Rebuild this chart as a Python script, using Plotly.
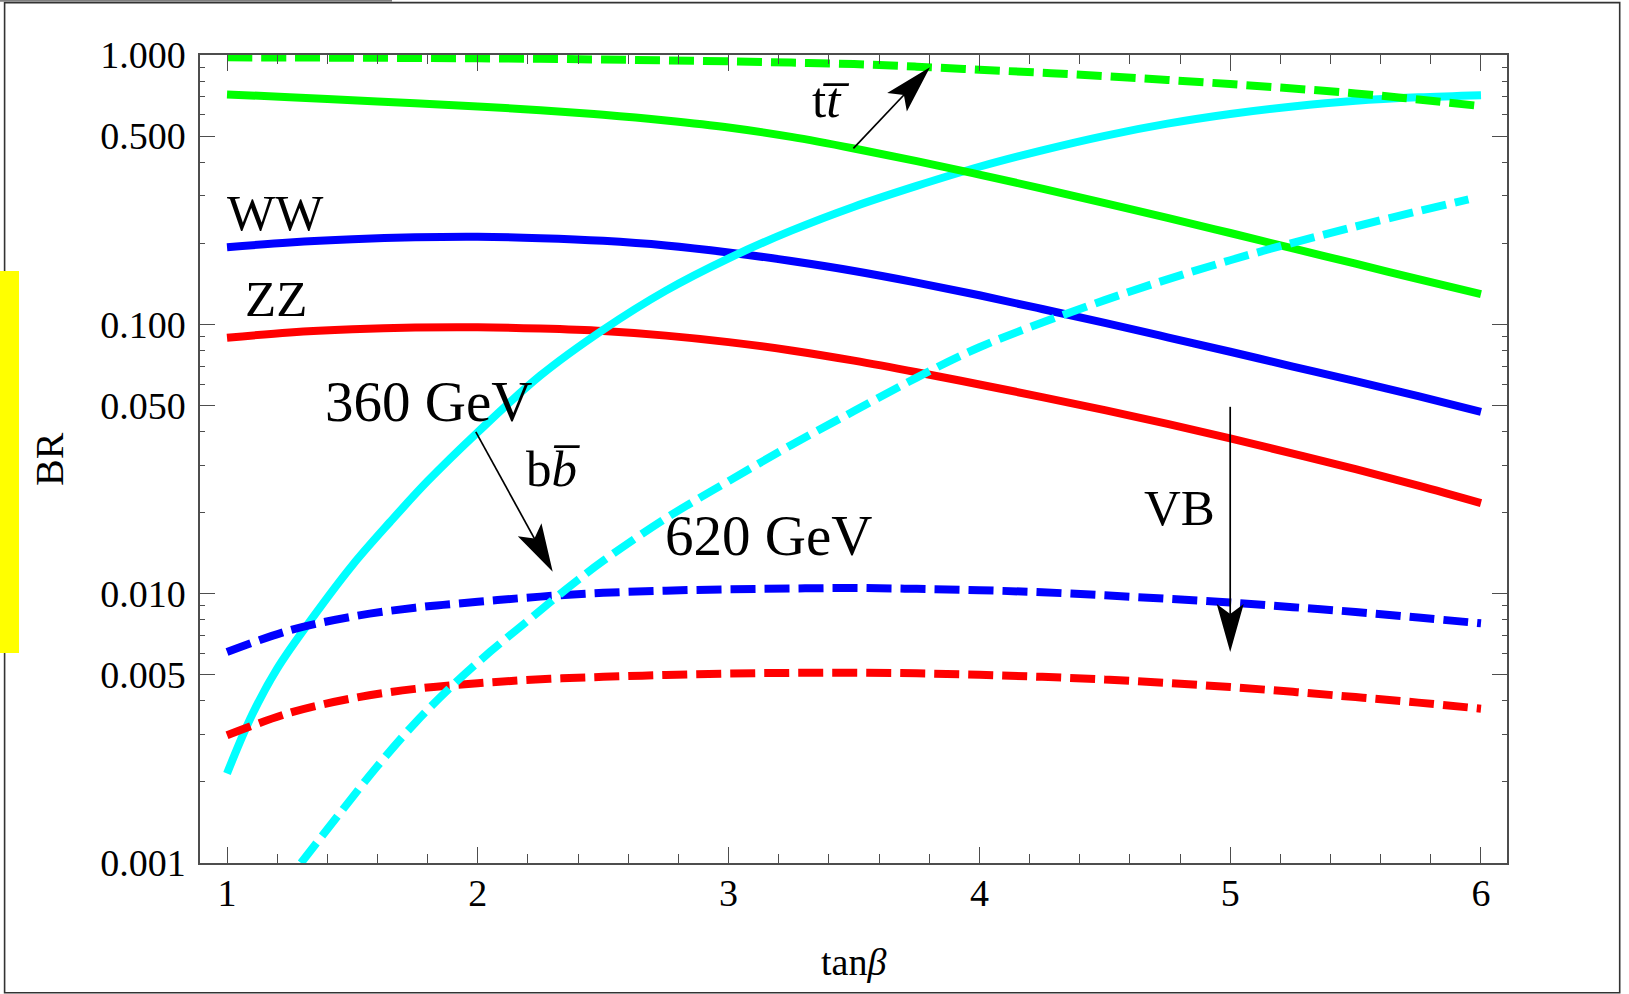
import math
import plotly.graph_objects as go

# ---------------------------------------------------------------------------
# Branching ratios of the heavy Higgs vs tan(beta)
# solid = 360 GeV, dashed = 620 GeV
# ---------------------------------------------------------------------------
tanb = [1, 1.25, 1.5, 1.75, 2, 2.25, 2.5, 2.75, 3, 3.25, 3.5, 3.75,
        4, 4.25, 4.5, 4.75, 5, 5.25, 5.5, 5.75, 6]

# 360 GeV
br_tt_360 = [0.714, 0.697, 0.679, 0.662, 0.644, 0.624, 0.600, 0.5715, 0.5383,
             0.4966, 0.4498, 0.4036, 0.3597, 0.3192, 0.2818, 0.2483, 0.2183,
             0.1914, 0.1679, 0.1472, 0.1294]
br_ww_360 = [0.1932, 0.2014, 0.2070, 0.2104, 0.2113, 0.2089, 0.2042, 0.1963,
             0.1849, 0.1718, 0.1578, 0.1429, 0.1282, 0.1140, 0.1012, 0.0895,
             0.0791, 0.0697, 0.0615, 0.0541, 0.0473]
br_zz_360 = [0.0891, 0.0933, 0.0959, 0.0973, 0.0975, 0.0964, 0.0944, 0.0908,
             0.0859, 0.0800, 0.0733, 0.0664, 0.0598, 0.0537, 0.0480, 0.0427,
             0.0377, 0.0331, 0.0290, 0.0252, 0.0217]
tanb_bb_360 = [1, 1.1, 1.2, 1.35, 1.5, 1.65, 1.8, 2, 2.25, 2.5, 2.75, 3,
               3.25, 3.5, 3.75, 4, 4.25, 4.5, 4.75, 5, 5.25, 5.5, 5.75, 6]
br_bb_360 = [0.00215, 0.00355, 0.00527, 0.00836, 0.01276, 0.01845, 0.02618,
             0.03981, 0.0646, 0.0955, 0.1334, 0.1758, 0.2228, 0.2735, 0.3266,
             0.3846, 0.4426, 0.5012, 0.5559, 0.6039, 0.6442, 0.6761, 0.6966,
             0.7096]

# 620 GeV
br_tt_620 = [0.980, 0.979, 0.977, 0.975, 0.972, 0.968, 0.962, 0.955, 0.947,
             0.937, 0.925, 0.905, 0.882, 0.859, 0.835, 0.808, 0.780, 0.751,
             0.720, 0.684, 0.646]
br_ww_620 = [0.00607, 0.00731, 0.00822, 0.00887, 0.00933, 0.00975, 0.01007,
             0.01026, 0.01038, 0.01045, 0.01050, 0.01042, 0.01030, 0.01012,
             0.00986, 0.00957, 0.00927, 0.00891, 0.00855, 0.00815, 0.00776]
br_zz_620 = [0.00298, 0.00361, 0.00409, 0.00443, 0.00465, 0.00481, 0.00491,
             0.00499, 0.00505, 0.00508, 0.00509, 0.00506, 0.00500, 0.00491,
             0.00480, 0.00466, 0.00450, 0.00432, 0.00413, 0.00394, 0.00374]
tanb_bb_620 = [1.295, 1.45, 1.6, 1.75, 1.9, 2.05, 2.2, 2.35, 2.5, 2.75, 3,
               3.25, 3.5, 3.75, 4, 4.5, 5, 5.5, 5.95]
br_bb_620 = [0.001, 0.001531, 0.002291, 0.003311, 0.004571, 0.006095,
             0.007943, 0.01035, 0.01324, 0.01905, 0.02618, 0.03565, 0.04764,
             0.06339, 0.08222, 0.1230, 0.1730, 0.2307, 0.2911]

# axis ticks
x_major = [1, 2, 3, 4, 5, 6]
y_major = [0.001, 0.005, 0.01, 0.05, 0.1, 0.5, 1.0]
y_major_text = ["0.001", "0.005", "0.010", "0.050", "0.100", "0.500", "1.000"]

# text labels: (text, tanb, BR)
labels = [
    ("WW", 1.1945, 0.2584),
    ("ZZ", 1.1965, 0.1244),
    ("360 GeV", 1.8014, 0.05191),
    ("b<i>b\u0305</i>", 2.2998, 0.02915),
    ("620 GeV", 3.1571, 0.01651),
    ("VB", 4.7998, 0.02089),
    ("t<i>t\u0305</i>", 3.4083, 0.6808),
]

# arrows: (tail tanb, tail BR, tip tanb, tip BR)
arrows = [
    (3.4976, 0.450, 3.803, 0.900),     # t tbar
    (1.992, 0.0399, 2.2987, 0.01205),  # b bbar
    (5.0, 0.0494, 5.0, 0.00607),       # vector bosons
]

# ---------------------------------------------------------------------------
FIG_W, FIG_H = 1629, 994
M_L, M_R, M_T, M_B = 200, 122, 55, 131
PLOT_W = FIG_W - M_L - M_R
PLOT_H = FIG_H - M_T - M_B
X_RANGE = [0.8923, 6.1037]
LOGY_RANGE = [-3.0, 0.0]
SERIF = "Liberation Serif, Times New Roman, serif"
FRAME = "#4d4d4d"

GREEN, BLUE, RED, CYAN = "#00ff00", "#0000ff", "#ff0000", "#00ffff"


def data_to_px(x, v):
    X = M_L + (x - X_RANGE[0]) / (X_RANGE[1] - X_RANGE[0]) * PLOT_W
    Y = M_T + (LOGY_RANGE[1] - math.log10(v)) / (LOGY_RANGE[1] - LOGY_RANGE[0]) * PLOT_H
    return X, Y


def px_to_paper(X, Y):
    return (X - M_L) / PLOT_W, 1 - (Y - M_T) / PLOT_H


fig = go.Figure()


def add_curve(x, y, color, dashed):
    fig.add_trace(go.Scatter(
        x=x, y=y, mode="lines", showlegend=False, hoverinfo="skip",
        line=dict(color=color, width=8, shape="spline",
                  dash="25px,9px" if dashed else "solid"),
    ))


add_curve(tanb, br_ww_360, BLUE, False)
add_curve(tanb, br_zz_360, RED, False)
add_curve(tanb_bb_360, br_bb_360, CYAN, False)
add_curve(tanb, br_tt_360, GREEN, False)
add_curve(tanb, br_tt_620, GREEN, True)
add_curve(tanb, br_ww_620, BLUE, True)
add_curve(tanb, br_zz_620, RED, True)
add_curve(tanb_bb_620, br_bb_620, CYAN, True)

shapes = []


def arrow(tail_x, tail_v, tip_x, tip_v, head_len=48, half_w=13.5, notch=38):
    tx, ty = data_to_px(tail_x, tail_v)
    hx, hy = data_to_px(tip_x, tip_v)
    d = math.hypot(hx - tx, hy - ty)
    ux, uy = (hx - tx) / d, (hy - ty) / d
    nx, ny = -uy, ux
    bx, by = hx - head_len * ux, hy - head_len * uy
    pts = [(hx, hy),
           (bx + half_w * nx, by + half_w * ny),
           (hx - notch * ux, hy - notch * uy),
           (bx - half_w * nx, by - half_w * ny)]
    path = "M " + " L ".join("%.6f,%.6f" % px_to_paper(*p) for p in pts) + " Z"
    shapes.append(dict(type="path", path=path, xref="paper", yref="paper",
                       fillcolor="black", line=dict(width=0), layer="above"))
    sx, sy = hx - (notch - 2) * ux, hy - (notch - 2) * uy
    p0, p1 = px_to_paper(tx, ty), px_to_paper(sx, sy)
    shapes.append(dict(type="line", xref="paper", yref="paper",
                       x0=p0[0], y0=p0[1], x1=p1[0], y1=p1[1],
                       line=dict(color="black", width=1.7), layer="above"))


for a in arrows:
    arrow(*a)


def px_rect(X0, Y0, X1, Y1, **kw):
    a, b = px_to_paper(X0, Y0)
    c, d = px_to_paper(X1, Y1)
    shapes.append(dict(type="rect", xref="paper", yref="paper",
                       x0=a, y0=b, x1=c, y1=d, layer="above", **kw))


# page border, top strip and the yellow side tab
px_rect(4.6, 2.6, 1619.7, 992.7, line=dict(color="#333333", width=1.6),
        fillcolor="rgba(0,0,0,0)")
px_rect(0, 0, 392, 1.8, line=dict(width=0), fillcolor="#808080")
px_rect(0, 271, 19, 653, line=dict(width=0), fillcolor="#ffff00")

annotations = []
for text, x, v in labels:
    big = "GeV" in text
    annotations.append(dict(
        x=x, y=math.log10(v), xref="x", yref="y", text=text, showarrow=False,
        xanchor="center", yanchor="middle",
        font=dict(family=SERIF, size=57 if big else 51, color="black"),
    ))

bx, by = px_to_paper(49, 459)
annotations.append(dict(x=bx, y=by, xref="paper", yref="paper", text="BR",
                        textangle=-90, showarrow=False, xanchor="center",
                        yanchor="middle",
                        font=dict(family=SERIF, size=40, color="black")))
tx_, ty_ = px_to_paper(853, 962)
annotations.append(dict(x=tx_, y=ty_, xref="paper", yref="paper",
                        text="tan<i>\u03b2</i>", showarrow=False,
                        xanchor="center", yanchor="middle",
                        font=dict(family=SERIF, size=38, color="black")))

x_minor = [round(1 + 0.2 * k, 2) for k in range(26) if k % 5 != 0]
y_minor = [m * 10 ** e for e in (-3, -2, -1) for m in (2, 3, 4, 6, 7, 8, 9)]

fig.update_layout(
    width=FIG_W, height=FIG_H,
    margin=dict(l=M_L, r=M_R, t=M_T, b=M_B, pad=0),
    paper_bgcolor="white", plot_bgcolor="white",
    shapes=shapes, annotations=annotations,
    xaxis=dict(
        range=X_RANGE, tickvals=x_major, ticktext=[str(v) for v in x_major],
        ticks="inside", ticklen=16, tickwidth=1.2, tickcolor=FRAME,
        showline=True, linecolor=FRAME, linewidth=1.5, mirror="allticks",
        showgrid=False, zeroline=False, ticklabelstandoff=-4,
        tickfont=dict(family=SERIF, size=38, color="black"),
        minor=dict(tickvals=x_minor, ticks="inside", ticklen=9,
                   tickwidth=1.2, tickcolor=FRAME, showgrid=False),
    ),
    yaxis=dict(
        type="log", range=LOGY_RANGE, tickvals=y_major, ticktext=y_major_text,
        ticks="inside", ticklen=15, tickwidth=1.2, tickcolor=FRAME,
        showline=True, linecolor=FRAME, linewidth=1.5, mirror="allticks",
        showgrid=False, zeroline=False, ticklabelstandoff=5,
        tickfont=dict(family=SERIF, size=38, color="black"),
        minor=dict(tickvals=y_minor, ticks="inside", ticklen=5.5,
                   tickwidth=1.2, tickcolor=FRAME, showgrid=False),
    ),
)

fig.write_html("out.html")
